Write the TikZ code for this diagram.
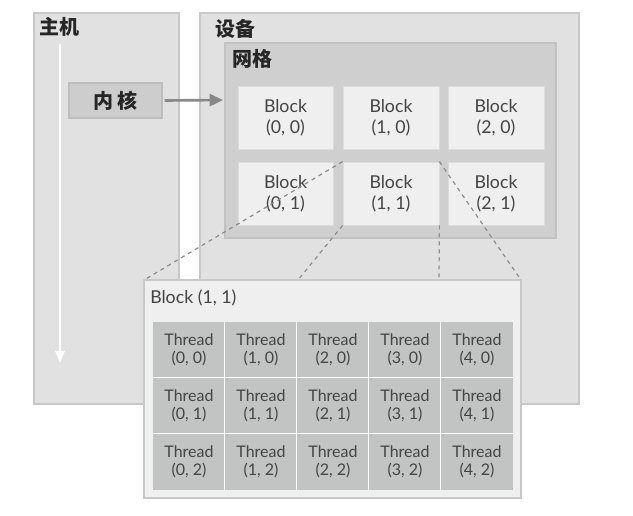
\documentclass[tikz,border=0pt]{standalone}
\usepackage{fontspec}
\setmainfont{Lato}
\newfontfamily\cjk{Noto Sans CJK SC}
\usetikzlibrary{fit,arrows.meta}
\definecolor{outerfill}{HTML}{E1E1E1}
\definecolor{outerdraw}{HTML}{C8C8C8}
\definecolor{gridfill}{HTML}{CFCFCF}
\definecolor{griddraw}{HTML}{C2C2C2}
\definecolor{blockfill}{HTML}{EFEFEF}
\definecolor{blockdraw}{HTML}{DCDCDC}
\definecolor{kernfill}{HTML}{CDCDCD}
\definecolor{kerndraw}{HTML}{BDBDBD}
\definecolor{threadfill}{HTML}{C1C4C2}
\definecolor{txt}{HTML}{444444}
\definecolor{cjktxt}{HTML}{262626}
\definecolor{arrowgray}{HTML}{888888}
\definecolor{dashgray}{HTML}{8C8C8C}
\tikzset{
  outerbox/.style={draw=outerdraw, fill=outerfill, line width=0.9pt, inner sep=0pt},
  gridbox/.style={draw=griddraw, fill=gridfill, line width=0.9pt, inner sep=0pt},
  blockbox/.style={draw=blockdraw, fill=blockfill, line width=0.6pt, inner sep=0pt},
  blocktext/.style={text=txt, font=\fontsize{13.3pt}{16pt}\selectfont, align=center, inner sep=0pt},
  kernbox/.style={draw=kerndraw, fill=kernfill, line width=0.8pt, inner sep=0pt},
  detailbox/.style={draw=outerdraw, fill=blockfill, line width=0.9pt, inner sep=0pt},
  threadcell/.style={fill=threadfill, inner sep=0pt,
    minimum width=54pt, minimum height=42pt, text=txt,
    font=\fontsize{12pt}{13.2pt}\selectfont, align=center},
  sep/.style={draw=white, line width=1.1pt},
  cjklabel/.style={anchor=west, inner sep=0pt, text=cjktxt,
    font=\cjk\bfseries\fontsize{15pt}{17pt}\selectfont},
  zoomline/.style={draw=dashgray, line width=0.9pt, dash pattern=on 3pt off 3pt},
}
\begin{document}
\begin{tikzpicture}[x=0.75pt,y=-0.75pt]
\useasboundingbox (0,0) rectangle (633,516);
\fill[white] (0,0) rectangle (633,516);

% host and device panels
\node[outerbox, fit={(34,13) (179,404)}] (host) {};
\node[outerbox, fit={(200,13) (579,404)}] (device) {};
\node[cjklabel] (hostlbl) at (39,27) {主机};
\node[cjklabel] (devlbl) at (215,29) {设备};

% host timeline arrow
\coordinate (tstart) at (60,44);
\coordinate (tend) at (60,363);
\draw[white, line width=1.6pt, -{Triangle[width=7pt,length=9pt]}] (tstart) -- (tend);

% kernel
\node[kernbox, fit={(69,83) (162,118)}] (kernel) {};
\node[text=cjktxt, font=\cjk\bfseries\fontsize{15pt}{17pt}\selectfont, inner sep=0pt] (kernlbl) at (kernel.center) {内\,核};

% grid
\node[gridbox, fit={(225,43) (556,238)}] (grid) {};
\node[cjklabel] (gridlbl) at (232,59) {网格};

% kernel arrow
\coordinate (arrowend) at (223,100);
\draw[arrowgray, line width=2pt, -{Triangle[width=9pt,length=10pt]}] ([xshift=1.5pt]kernel.east) -- (arrowend);

% blocks
\node[blockbox, fit={(238,86) (333,149)}] (b00) {};
\node[blockbox, fit={(343,86) (439,149)}] (b10) {};
\node[blockbox, fit={(448,86) (544,149)}] (b20) {};
\node[blockbox, fit={(238,162) (333,225)}] (b01) {};
\node[blockbox, fit={(343,162) (439,225)}] (b11) {};
\node[blockbox, fit={(448,162) (544,225)}] (b21) {};
\foreach \n/\t in {b00/{(0, 0)}, b10/{(1, 0)}, b20/{(2, 0)}, b01/{(0, 1)}, b11/{(1, 1)}, b21/{(2, 1)}}{
  \node[blocktext] at (\n.center) {Block\\\t};
}

% zoom lines (drawn under detail panel)
\coordinate (dtl) at (144,280);
\coordinate (dtr) at (521,280);
\coordinate (zbl) at (298,280);
\coordinate (zbr) at (439,280);
\draw[zoomline] (b11.north west) -- (dtl);
\draw[zoomline] (b11.south west) -- (zbl);
\draw[zoomline] (b11.south east) -- (zbr);
\draw[zoomline] (b11.north east) -- (dtr);

% detail panel
\node[detailbox, fit={(144,280) (521,498)}] (detail) {};
\node[anchor=west, inner sep=0pt, text=txt, font=\fontsize{13.3pt}{15pt}\selectfont] (detaillbl) at (150,298) {Block (1, 1)};

% threads
\foreach \c in {0,...,4}{
  \foreach \r in {0,1,2}{
    \node[threadcell] (t\c\r) at ({153+36+72*\c},{322+28+56*\r}) {Thread\\(\c, \r)};
  }
}
% white separators
\foreach \c in {1,...,4}{
  \draw[sep] (t\c0.north west) -- (t\c2.south west);
}
\foreach \r in {1,2}{
  \draw[sep] (t0\r.north west) -- (t4\r.north east);
}
\end{tikzpicture}
\end{document}
